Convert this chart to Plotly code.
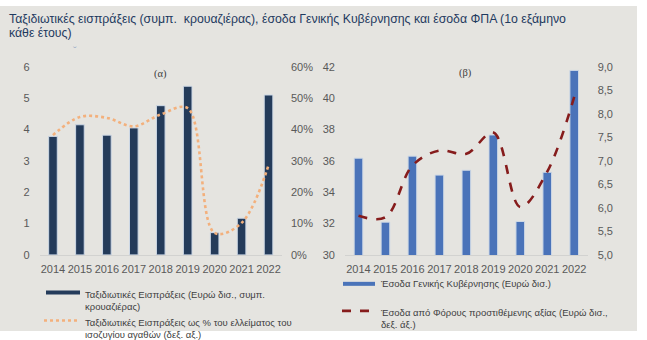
import plotly.graph_objects as go

W, H = 647, 340

years = ["2014", "2015", "2016", "2017", "2018", "2019", "2020", "2021", "2022"]
travel_receipts = [3.78, 4.15, 3.82, 4.05, 4.76, 5.38, 0.71, 1.17, 5.10]
travel_pct_deficit = [38.2, 44.0, 43.7, 41.0, 44.8, 46.8, 7.0, 10.2, 28.6]
gov_revenue = [36.17, 32.09, 36.30, 35.09, 35.40, 37.65, 32.13, 35.27, 41.77]
vat_revenue = [5.83, 5.80, 6.90, 7.22, 7.15, 7.60, 6.02, 6.77, 8.36]

left_ticks = [0, 1, 2, 3, 4, 5, 6]
pct_ticks = [0, 10, 20, 30, 40, 50, 60]
pct_labels = ["0%", "10%", "20%", "30%", "40%", "50%", "60%"]
gov_ticks = [30, 32, 34, 36, 38, 40, 42]
vat_ticks = [5.0, 5.5, 6.0, 6.5, 7.0, 7.5, 8.0, 8.5, 9.0]
vat_labels = ["5,0", "5,5", "6,0", "6,5", "7,0", "7,5", "8,0", "8,5", "9,0"]

title_line1 = "Ταξιδιωτικές εισπράξεις (συμπ.  κρουαζιέρας), έσοδα Γενικής Κυβέρνησης και έσοδα ΦΠΑ (1ο εξάμηνο"
title_line2 = "κάθε έτους)"
legend_texts = [
    "Ταξιδιωτικές Εισπράξεις (Ευρώ δισ., συμπ.<br>κρουαζιέρας)",
    "Ταξιδιωτικές Εισπράξεις ως % του ελλείματος του<br>ισοζυγίου αγαθών (δεξ. αξ.)",
    "Έσοδα Γενικής Κυβέρνησης (Ευρώ δισ.)",
    "Έσοδα από Φόρους προστιθέμενης αξίας (Ευρώ δισ.,<br>δεξ. άξ.)",
]

BG = "#e5e4e0"
NAVY = "#243b5a"
BLUE = "#4a73b9"
ORANGE = "#f3b07c"
DARKRED = "#861c1c"
TICK = "#595959"
FONT = "Liberation Sans"

def px(x):
    return x / W

def py(y):
    return 1 - y / H

fig = go.Figure()

fig.add_trace(go.Bar(x=years, y=travel_receipts, xaxis="x", yaxis="y",
                     marker=dict(color=NAVY, line=dict(color="#cdd8e6", width=1)),
                     width=0.32, showlegend=False))
fig.add_trace(go.Scatter(x=years, y=travel_pct_deficit, xaxis="x", yaxis="y2", mode="lines",
                         line=dict(color=ORANGE, width=2.6, dash="dot", shape="spline", smoothing=1.0),
                         showlegend=False))
fig.add_trace(go.Bar(x=years, y=gov_revenue, xaxis="x2", yaxis="y3",
                     marker=dict(color=BLUE, line=dict(color="#cdd8e6", width=1)),
                     width=0.32, showlegend=False))
fig.add_trace(go.Scatter(x=years, y=vat_revenue, xaxis="x2", yaxis="y4", mode="lines",
                         line=dict(color=DARKRED, width=2.6, dash="dash", shape="spline", smoothing=1.0),
                         showlegend=False))

ydom = [py(258), py(63)]
tickfont = dict(family=FONT, size=11, color=TICK)

fig.update_layout(
    width=W, height=H,
    margin=dict(l=0, r=0, t=0, b=0),
    paper_bgcolor="white",
    plot_bgcolor="rgba(0,0,0,0)",
    barmode="overlay",
    xaxis=dict(domain=[px(39.5), px(282)], anchor="y", type="category",
               showgrid=False, showline=True, linecolor="#d2d2d0", linewidth=1,
               ticks="", tickfont=tickfont, ticklabelstandoff=4),
    yaxis=dict(domain=ydom, anchor="x", range=[0, 6], tickvals=left_ticks,
               showgrid=False, zeroline=False, ticks="", tickfont=tickfont,
               ticklabelstandoff=9),
    yaxis2=dict(overlaying="y", side="right", anchor="x", range=[0, 60],
                tickvals=pct_ticks, ticktext=pct_labels, showgrid=False, zeroline=False,
                ticks="", tickfont=tickfont, ticklabelstandoff=8),
    xaxis2=dict(domain=[px(345), px(587.7)], anchor="y3", type="category",
                showgrid=False, showline=True, linecolor="#d2d2d0", linewidth=1,
                ticks="", tickfont=tickfont, ticklabelstandoff=4),
    yaxis3=dict(domain=ydom, anchor="x2", range=[30, 42], tickvals=gov_ticks,
                showgrid=False, zeroline=False, ticks="", tickfont=tickfont,
                ticklabelstandoff=9),
    yaxis4=dict(overlaying="y3", side="right", anchor="x2", range=[5, 9],
                tickvals=vat_ticks, ticktext=vat_labels, showgrid=False, zeroline=False,
                ticks="", tickfont=tickfont, ticklabelstandoff=9),
)

shapes = [
    dict(type="rect", xref="paper", yref="paper", x0=0, x1=px(637), y0=py(337), y1=1,
         fillcolor=BG, line=dict(width=0), layer="below"),
    # legend samples
    dict(type="line", xref="paper", yref="paper", x0=px(46), x1=px(80), y0=py(297), y1=py(297),
         line=dict(color=NAVY, width=4)),
    dict(type="line", xref="paper", yref="paper", x0=px(44), x1=px(78), y0=py(326), y1=py(326),
         line=dict(color=ORANGE, width=2.4, dash="dot")),
    dict(type="line", xref="paper", yref="paper", x0=px(343), x1=px(375), y0=py(288), y1=py(288),
         line=dict(color=BLUE, width=4)),
    dict(type="line", xref="paper", yref="paper", x0=px(342), x1=px(377), y0=py(316), y1=py(316),
         line=dict(color=DARKRED, width=2.6, dash="dash")),
]
fig.update_layout(shapes=shapes)

ann = [
    dict(text=title_line1, x=px(7), y=py(13), xanchor="left", yanchor="middle", align="left",
         font=dict(family=FONT, size=12.3, color="#1f3a5f")),
    dict(text=title_line2, x=px(7), y=py(28), xanchor="left", yanchor="middle", align="left",
         font=dict(family=FONT, size=12.3, color="#1f3a5f")),
    dict(text="ˇ", x=px(75), y=py(47), xanchor="center", yanchor="middle",
         font=dict(family=FONT, size=11, color="#9aabc6")),
    dict(text="(α)", x=px(160), y=py(71), xanchor="center", yanchor="middle",
         font=dict(family="Liberation Serif", size=10.5, color="#404040")),
    dict(text="(β)", x=px(465), y=py(69), xanchor="center", yanchor="middle",
         font=dict(family="Liberation Serif", size=10.5, color="#404040")),
    dict(text=legend_texts[0], x=px(83), y=py(291), xanchor="left", yanchor="top", align="left",
         font=dict(family=FONT, size=9.5, color="#404040")),
    dict(text=legend_texts[1], x=px(83), y=py(320), xanchor="left", yanchor="top", align="left",
         font=dict(family=FONT, size=9.5, color="#404040")),
    dict(text=legend_texts[2], x=px(378), y=py(288), xanchor="left", yanchor="middle", align="left",
         font=dict(family=FONT, size=9.5, color="#404040")),
    dict(text=legend_texts[3], x=px(378), y=py(310), xanchor="left", yanchor="top", align="left",
         font=dict(family=FONT, size=9.5, color="#404040")),
]
for a in ann:
    a.update(xref="paper", yref="paper", showarrow=False)
fig.update_layout(annotations=ann)

fig.write_html("out.html")
